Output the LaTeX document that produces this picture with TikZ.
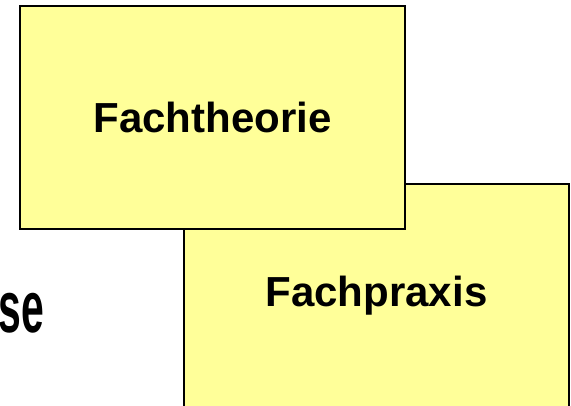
\documentclass[tikz,border=0pt]{standalone}
\usepackage{fontspec}
\setmainfont{Liberation Sans}
\usepackage{tikz}
\usetikzlibrary{positioning}

\definecolor{notegelb}{HTML}{FFFF99}

\begin{document}
\begin{tikzpicture}[%
    x=1pt,
    y=-1pt,
    card/.style={draw=black, fill=notegelb, line width=2pt,
      minimum width=385pt, minimum height=223pt,
      font=\fontsize{42}{50}\selectfont\bfseries},
  ]
    \useasboundingbox (0,0) rectangle (571,405);

    \node[card] (praxis)  at (376.5,295.5) {Fachpraxis};
    \node[card] (theorie) at (212.5,117.5) {Fachtheorie};

    \node[anchor=base east, inner sep=0pt,
      font=\fontsize{73}{80}\selectfont\bfseries] (phase) at (44,332)
      {\scalebox{0.56}[1]{se}};
  \end{tikzpicture}
\end{document}
